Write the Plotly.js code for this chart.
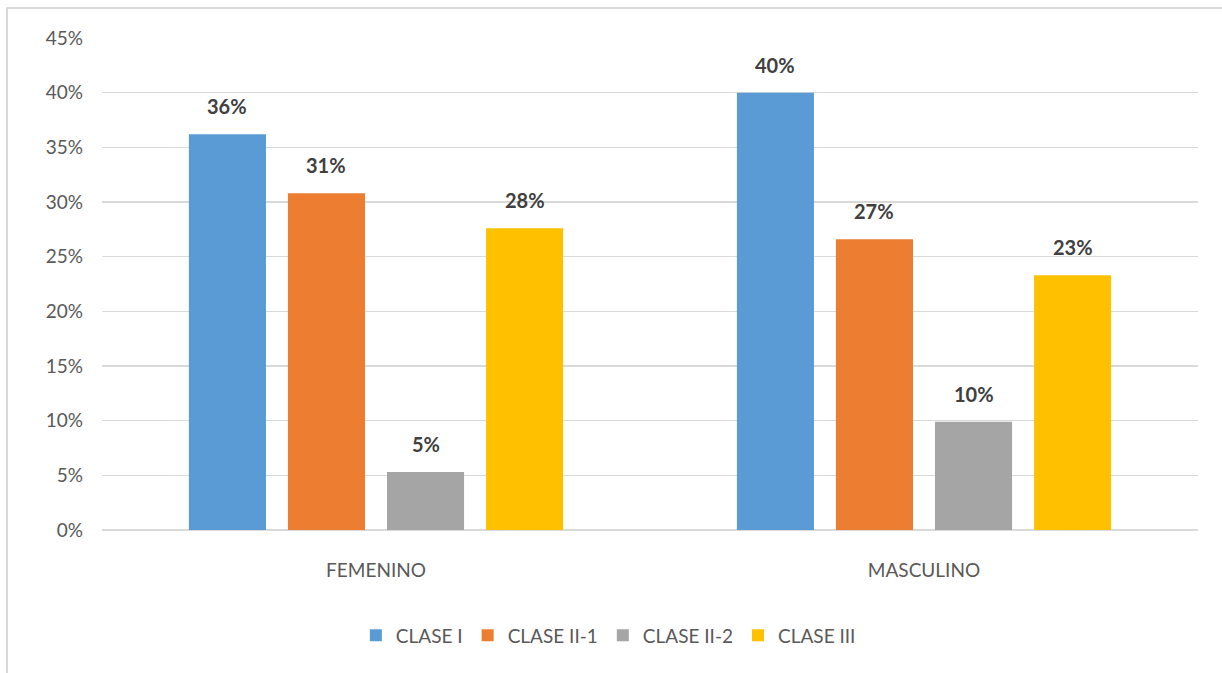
<!DOCTYPE html>
<html>
<head>
<meta charset="utf-8">
<script src="https://cdn.plot.ly/plotly-3.0.1.min.js"></script>
<style>
  html, body { margin: 0; padding: 0; background: #ffffff; }
  #wrap { position: relative; width: 1222px; height: 673px; overflow: hidden; }
  #chart { position: absolute; left: 0; top: 0; width: 1222px; height: 673px; }
  #frame {
    position: absolute; left: 6px; top: 7px; right: -2px; bottom: -2px;
    border-left: 2px solid #d9d9d9; border-top: 2px solid #d9d9d9;
    pointer-events: none;
  }
</style>
</head>
<body>
<div id="wrap">
  <div id="chart"></div>
  <div id="frame"></div>
</div>
<script>
// Groups on the x axis
const categories = ['FEMENINO', 'MASCULINO'];

// Share of each class per group (fraction of 1)
const claseI   = [0.362, 0.400];
const claseII1 = [0.308, 0.266];
const claseII2 = [0.053, 0.099];
const claseIII = [0.276, 0.233];

const seriesNames = ['CLASE I', 'CLASE II-1', 'CLASE II-2', 'CLASE III'];
const seriesValues = [claseI, claseII1, claseII2, claseIII];
const seriesColors = ['#5B9BD5', '#ED7D31', '#A5A5A5', '#FFC000'];

// Y axis ticks
const yTickVals = [0, 0.05, 0.10, 0.15, 0.20, 0.25, 0.30, 0.35, 0.40, 0.45];
const yTickText = ['0%', '5%', '10%', '15%', '20%', '25%', '30%', '35%', '40%', '45%'];

const FONT = 'Lato, "Open Sans", sans-serif';
const BARGAP = 0.277;
const BARGROUPGAP = 0.222;

const traces = seriesNames.map((name, i) => ({
  type: 'bar',
  name: name,
  x: categories,
  y: seriesValues[i],
  marker: { color: seriesColors[i] },
  hoverinfo: 'name+y'
}));

// Value labels above each bar, placed at the centre of the bar's slot in its group
const slot = (1 - BARGAP) / seriesNames.length;
const annotations = [];
seriesValues.forEach((vals, k) => {
  vals.forEach((v, c) => {
    annotations.push({
      x: c + (k - (seriesNames.length - 1) / 2) * slot,
      y: v,
      xref: 'x',
      yref: 'y',
      text: Math.round(v * 100) + '%',
      showarrow: false,
      xanchor: 'center',
      yanchor: 'bottom',
      yshift: 14,
      font: { family: FONT, size: 20, color: '#404040', weight: 'bold' }
    });
  });
});

const layout = {
  width: 1222,
  height: 673,
  margin: { l: 102, r: 24, t: 38, b: 142.5 },
  paper_bgcolor: '#ffffff',
  plot_bgcolor: '#ffffff',
  barmode: 'group',
  bargap: BARGAP,
  bargroupgap: BARGROUPGAP,
  font: { family: FONT, color: '#595959', size: 18 },
  annotations: annotations,
  xaxis: {
    type: 'category',
    showgrid: false,
    zeroline: false,
    showline: false,
    ticks: '',
    ticklabelstandoff: 27,
    tickfont: { family: FONT, size: 19, color: '#595959' }
  },
  yaxis: {
    range: [0, 0.45],
    tickvals: yTickVals,
    ticktext: yTickText,
    showgrid: true,
    gridcolor: '#d9d9d9',
    gridwidth: 1.3,
    zeroline: true,
    zerolinecolor: '#d9d9d9',
    zerolinewidth: 1.3,
    showline: false,
    ticks: '',
    ticklabelstandoff: 18,
    tickfont: { family: FONT, size: 19, color: '#595959' }
  },
  showlegend: true,
  legend: {
    orientation: 'h',
    x: 0.462,
    xanchor: 'center',
    y: -0.214,
    yanchor: 'middle',
    font: { family: FONT, size: 19, color: '#595959' },
    itemclick: false,
    itemdoubleclick: false
  }
};

Plotly.newPlot('chart', traces, layout, { displayModeBar: false, staticPlot: true });
</script>
</body>
</html>
